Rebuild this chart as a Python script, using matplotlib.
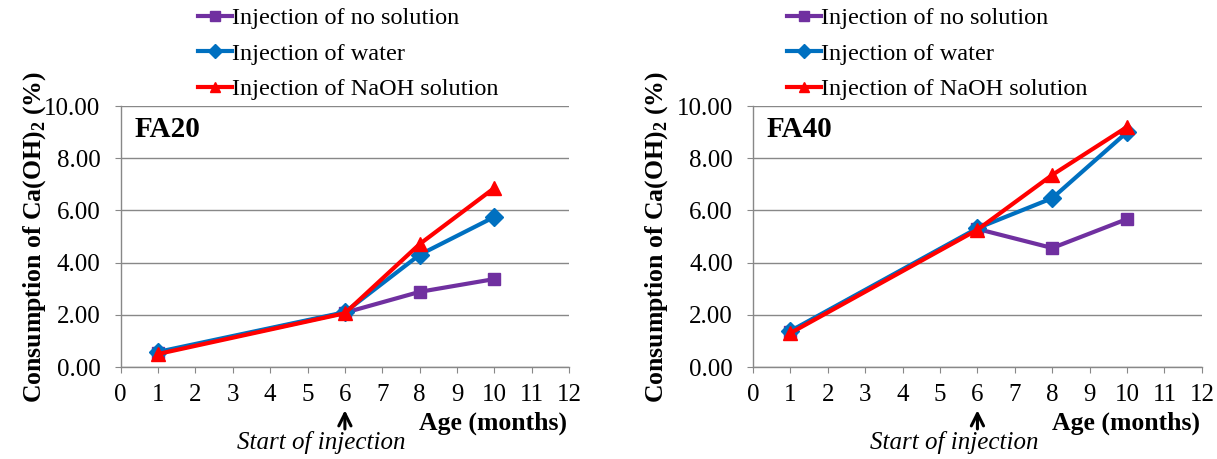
import matplotlib
matplotlib.use('Agg')
import matplotlib.pyplot as plt

# --- data ---
ages = [1, 6, 8, 10]
series_names = ['Injection of no solution', 'Injection of water', 'Injection of NaOH solution']

fa20_none = [0.54, 2.08, 2.88, 3.37]
fa20_water = [0.58, 2.10, 4.30, 5.75]
fa20_naoh = [0.50, 2.06, 4.71, 6.86]

fa40_none = [1.35, 5.29, 4.56, 5.67]
fa40_water = [1.38, 5.32, 6.47, 9.00]
fa40_naoh = [1.30, 5.26, 7.36, 9.20]

x_ticks = list(range(0, 13))
y_ticks = [0, 2, 4, 6, 8, 10]

colors = ['#7030A0', '#0070C0', '#FF0000']
markers = ['s', 'D', '^']
msizes = [9, 9, 10]

plt.rcParams['font.family'] = ['Liberation Serif', 'DejaVu Serif']
plt.rcParams['mathtext.fontset'] = 'custom'
plt.rcParams['mathtext.rm'] = 'Liberation Serif'
plt.rcParams['mathtext.bf'] = 'Liberation Serif:bold'

fig = plt.figure(figsize=(12.17, 4.59), dpi=100)
grid_col = '#888888'

# name, series, axes rect, legend x, ylabel x
panels = [
    ('FA20', [fa20_none, fa20_water, fa20_naoh], [0.0992, 0.2004, 0.3684, 0.5686], 0.172, -0.162),
    ('FA40', [fa40_none, fa40_water, fa40_naoh], [0.6187, 0.2004, 0.3689, 0.5686], 0.076, -0.185),
]

for name, data, pos, leg_x, lab_x in panels:
    ax = fig.add_axes(pos)
    for vals, c, m, ms, lab in zip(data, colors, markers, msizes, series_names):
        ax.plot(ages, vals, color=c, marker=m, markersize=ms, linewidth=3, label=lab)
    ax.set_xlim(0, 12)
    ax.set_ylim(0, 10)
    ax.set_xticks(x_ticks)
    ax.set_yticks(y_ticks)
    ax.set_yticklabels(['%.2f' % v for v in y_ticks])
    ax.yaxis.grid(True, color=grid_col, linewidth=1)
    ax.set_axisbelow(True)
    for s in ['top', 'right']:
        ax.spines[s].set_visible(False)
    for s in ['left', 'bottom']:
        ax.spines[s].set_color(grid_col)
        ax.spines[s].set_linewidth(1)
    ax.tick_params(axis='both', direction='out', length=4.5, color=grid_col,
                   labelsize=18)
    ax.tick_params(axis='x', pad=8)
    ax.tick_params(axis='y', pad=10)

    ax.text(0.03, 0.91, name, transform=ax.transAxes, fontsize=21,
            fontweight='bold', va='center', ha='left')
    ax.set_ylabel(r'Consumption of Ca(OH)$_\mathbf{2}$ (%)', fontsize=18.5,
                  fontweight='bold')
    ax.yaxis.set_label_coords(lab_x, 0.5)
    ax.text(0.996, -0.215, 'Age (months)', transform=ax.transAxes, fontsize=18.5,
            fontweight='bold', ha='right', va='center')
    ax.text(5.37, -0.291, 'Start of injection', transform=ax.get_xaxis_transform(),
            fontsize=18, style='italic', ha='center', va='center')
    ax.annotate('', xy=(6, -0.155), xycoords=ax.get_xaxis_transform(),
                xytext=(6, -0.248), textcoords=ax.get_xaxis_transform(),
                arrowprops=dict(arrowstyle='->', color='black', lw=2.2, mutation_scale=22))
    ax.legend(loc='upper left', bbox_to_anchor=(leg_x, 1.378), frameon=False,
              fontsize=17.5, handlelength=1.4, handletextpad=0.0, labelspacing=0.55,
              borderpad=0, borderaxespad=0, markerscale=0.75)

plt.savefig('out.png', dpi=100)
plt.close()
